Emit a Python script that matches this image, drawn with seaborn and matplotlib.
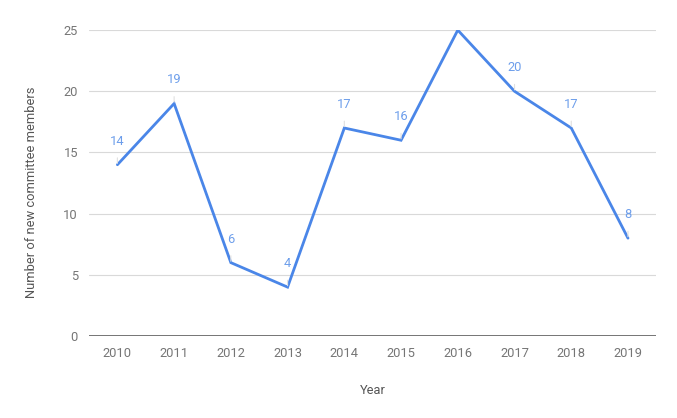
import numpy as np
import pandas as pd
import matplotlib
matplotlib.use("Agg")
import matplotlib.pyplot as plt
import seaborn as sns

# ---------------------------
# Data
# ---------------------------
YEARS = ["2010", "2011", "2012", "2013", "2014", "2015", "2016", "2017", "2018", "2019"]
NEW_MEMBERS = [14, 19, 6, 4, 17, 16, 25, 20, 17, 8]
# the 2016 label is not shown in the original chart (clipped at the top)
SHOW_LABEL = [True, True, True, True, True, True, False, True, True, True]

LINE_COLOR = "#4a86e8"
LABEL_COLOR = "#6d9eeb"
TEXT_COLOR = "#757575"

sns.set_style("white")
plt.rcParams["font.family"] = ["Roboto", "DejaVu Sans"]

df = pd.DataFrame({"year": YEARS, "members": NEW_MEMBERS})

fig = plt.figure(figsize=(6.77, 4.18), dpi=100)
ax = fig.add_axes([0.1315, 0.196, 0.838, 0.732])

sns.lineplot(data=df, x="year", y="members", color=LINE_COLOR, linewidth=2, ax=ax,
             solid_joinstyle="miter")

# data labels with thin leader lines
for i, (v, show) in enumerate(zip(NEW_MEMBERS, SHOW_LABEL)):
    if not show:
        continue
    ax.annotate(str(v), xy=(i, v), xytext=(0, 17), textcoords="offset points",
                ha="center", va="center", fontsize=9.3, color=LABEL_COLOR,
                arrowprops=dict(arrowstyle="-", color="#e0e0e0", lw=0.8,
                                shrinkA=5, shrinkB=1))

ax.set_xlim(-0.5, len(YEARS) - 0.5)
ax.set_ylim(0, 25)
ax.set_yticks([0, 5, 10, 15, 20, 25])
ax.yaxis.grid(True, color="#d9d9d9", linewidth=0.8)
ax.set_axisbelow(True)
ax.axhline(0, color="#757575", linewidth=1.4, zorder=1)

for s in ["top", "right", "left", "bottom"]:
    ax.spines[s].set_visible(False)

ax.tick_params(axis="both", length=0, labelsize=9.3, labelcolor=TEXT_COLOR)
ax.tick_params(axis="x", pad=8)
ax.tick_params(axis="y", pad=8)

ax.set_xlabel("Year", fontsize=9.3, color="#555555", labelpad=17)
ax.set_ylabel("Number of new committee members", fontsize=9.3, color="#555555")
ax.yaxis.set_label_coords(-0.09, 0.47)

fig.savefig("out.png", dpi=100)
